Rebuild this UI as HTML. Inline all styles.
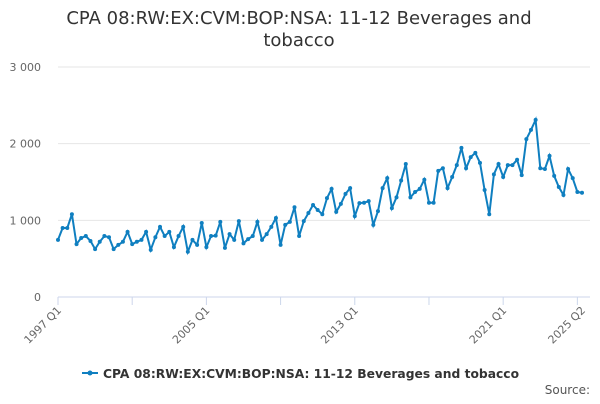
<!DOCTYPE html>
<html><head><meta charset="utf-8"><style>
body{margin:0;background:#fff;font-family:"DejaVu Sans",sans-serif}
svg text{font-family:"DejaVu Sans",sans-serif}
</style></head><body>
<svg width="600" height="400" xmlns="http://www.w3.org/2000/svg">
<text x="299" y="24" text-anchor="middle" font-size="18" fill="#333">CPA 08:RW:EX:CVM:BOP:NSA: 11-12 Beverages and</text>
<text x="299" y="46" text-anchor="middle" font-size="18" fill="#333">tobacco</text>
<g id="grid"></g><g id="xaxis"></g><g id="series"></g>
<g>
<line x1="82" y1="373" x2="98" y2="373" stroke="#0f7fc0" stroke-width="2"/>
<circle cx="90" cy="373" r="2.5" fill="#0f7fc0"/>
<text x="103" y="378" font-size="12.3" font-weight="bold" fill="#333">CPA 08:RW:EX:CVM:BOP:NSA: 11-12 Beverages and tobacco</text>
</g>
<text x="590" y="394" text-anchor="end" font-size="12" fill="#555">Source:</text>
</svg>
<script>
const values=[745,900,900,1080,690,770,795,730,625,720,795,780,625,680,720,850,690,720,745,850,615,780,915,795,850,650,795,915,590,745,680,965,650,795,800,980,640,820,745,990,700,755,795,980,745,820,915,1030,680,940,980,1170,795,990,1095,1200,1135,1080,1290,1410,1110,1215,1345,1420,1055,1225,1230,1250,940,1120,1420,1550,1160,1300,1520,1735,1300,1370,1410,1530,1230,1230,1645,1680,1420,1565,1720,1945,1680,1825,1880,1750,1395,1080,1600,1735,1565,1720,1720,1790,1590,2060,2180,2310,1680,1670,1840,1580,1435,1330,1670,1550,1370,1360];
const yTicks=[0,1000,2000,3000];
const yTickLabels=["0","1 000","2 000","3 000"];
const xLabelIdx=[0,32,64,96,113];
const xLabels=["1997 Q1","2005 Q1","2013 Q1","2021 Q1","2025 Q2"];
const x0=58,x1=582,y0=297,y3=67;
const xs=i=>x0+(x1-x0)*i/(values.length-1);
const ys=v=>y0-(y0-y3)*v/3000;
const NS="http://www.w3.org/2000/svg";
function mk(t,a,p){const e=document.createElementNS(NS,t);for(const k in a)e.setAttribute(k,a[k]);p.appendChild(e);return e;}
const grid=document.getElementById('grid');
yTicks.forEach((v,k)=>{
 const l=mk('line',{x1:x0,x2:590,y1:ys(v),y2:ys(v),stroke:v===0?'#ccd6eb':'#e6e6e6','stroke-width':1},grid);
 
 
 const t=mk('text',{x:41,y:ys(v)+4,'text-anchor':'end','font-size':11,fill:'#666'},grid);
 t.textContent=yTickLabels[k];
 
 
});
const xa=document.getElementById('xaxis');
for(let i=0;i<values.length;i+=16){
 const tk=mk('line',{x1:xs(i),x2:xs(i),y1:y0,y2:y0+8,stroke:'#ccd6eb'},xa);
 
 
}
xLabelIdx.forEach((i,k)=>{
 const x=xs(i)+4,y=y0+14;
 const t=mk('text',{x:x,y:y,'text-anchor':'end','font-size':11,fill:'#666',transform:`rotate(-45 ${x} ${y})`},xa);
 t.textContent=xLabels[k];
 
 
});
const s=document.getElementById('series');
const p=mk('path',{d:values.map((v,i)=>(i?'L':'M')+xs(i).toFixed(1)+' '+ys(v).toFixed(1)).join(''),fill:'none',stroke:'#0f7fc0','stroke-width':2},s);


values.forEach((v,i)=>{
 const c=mk('circle',{cx:xs(i),cy:ys(v),r:2,fill:'#0f7fc0'},s);
 
 
});
</script>
</body></html>
